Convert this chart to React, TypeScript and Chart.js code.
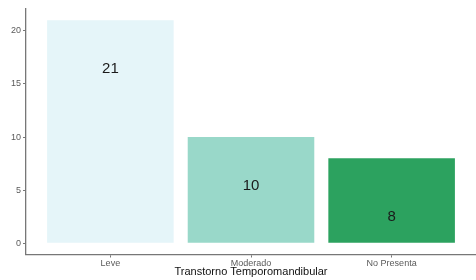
import React, { useEffect, useRef } from "react";
import { Chart, registerables } from "chart.js";

Chart.register(...registerables);

const categories = ["Leve", "Moderado", "No Presenta"];
const counts = [21, 10, 8];
const labelAt = [16.45, 5.45, 2.5];
const barColors = ["#e5f5f9", "#99d8c9", "#2ca25f"];
const yTicks = [0, 5, 10, 15, 20];
const xTitle = "Transtorno Temporomandibular";

const FONT = "'Liberation Sans', Arial, sans-serif";

export default function App() {
  const ref = useRef<HTMLCanvasElement | null>(null);

  useEffect(() => {
    document.body.style.margin = "0";
    const ctx = ref.current!;
    const labelPlugin = {
      id: "barLabels",
      afterDatasetsDraw(chart: any) {
        const c = chart.ctx;
        const meta = chart.getDatasetMeta(0);
        const ys = chart.scales.y;
        c.save();
        c.font = `15px ${FONT}`;
        c.fillStyle = "#1a1a1a";
        c.textAlign = "center";
        c.textBaseline = "middle";
        meta.data.forEach((bar: any, i: number) => {
          c.fillText(String(counts[i]), bar.x, ys.getPixelForValue(labelAt[i]));
        });
        c.restore();
      },
    };

    const chart = new Chart(ctx, {
      type: "bar",
      data: {
        datasets: [
          {
            data: counts.map((v, i) => ({ x: i, y: v })),
            backgroundColor: barColors,
            borderWidth: 0,
            barPercentage: 0.9,
            categoryPercentage: 1,
          },
        ],
      },
      options: {
        animation: false,
        responsive: false,
        layout: { padding: { top: 9, right: 0, left: 0, bottom: 0 } },
        plugins: { legend: { display: false }, tooltip: { enabled: false } },
        scales: {
          x: {
            type: "linear",
            offset: false,
            min: -0.6,
            max: 2.6,
            afterBuildTicks: (s: any) => {
              s.ticks = categories.map((_, i) => ({ value: i }));
            },
            afterFit: (s: any) => {
              s.height = 25.5;
            },
            ticks: {
              callback: (v: any) => categories[v as number] ?? "",
              font: { family: FONT, size: 9 },
              color: "#5a5a5a",
              padding: 1,
              maxRotation: 0,
              autoSkip: false,
            },
            grid: {
              display: true,
              offset: false,
              drawOnChartArea: false,
              drawTicks: true,
              tickLength: 3,
              color: "#777",
              lineWidth: 1,
            },
            border: { display: true, color: "#777", width: 1.3 },
            title: {
              display: true,
              text: xTitle,
              font: { family: FONT, size: 11 },
              color: "#111",
              padding: { top: 0, bottom: 1 },
            },
          },
          y: {
            type: "linear",
            min: -1.05,
            max: 22.05,
            afterBuildTicks: (s: any) => {
              s.ticks = yTicks.map((v) => ({ value: v }));
            },
            afterFit: (s: any) => {
              s.width = 26;
            },
            ticks: {
              font: { family: FONT, size: 9 },
              color: "#5a5a5a",
              padding: 2,
            },
            grid: {
              display: true,
              drawOnChartArea: false,
              drawTicks: true,
              tickLength: 3,
              color: "#777",
              lineWidth: 1,
            },
            border: { display: true, color: "#777", width: 1.3 },
          },
        },
      },
      plugins: [labelPlugin],
    } as any);
    return () => chart.destroy();
  }, []);

  return (
    <div style={{ position: "absolute", left: 0, top: 0, width: 476, height: 280, background: "#fff" }}>
      <canvas ref={ref} width={476} height={280} />
    </div>
  );
}
